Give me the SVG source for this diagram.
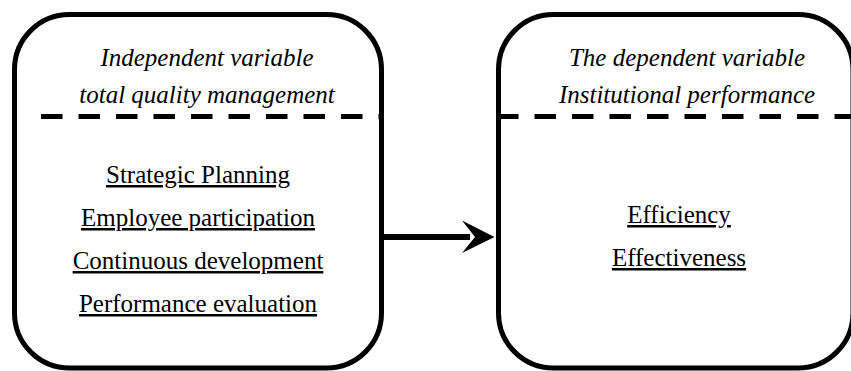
<svg xmlns="http://www.w3.org/2000/svg" width="851" height="371" viewBox="0 0 851 371">
<style>
.box{fill:#fff;stroke:#000;stroke-width:5}
.dash{stroke:#000;stroke-width:5;stroke-dasharray:21.5 16}
.hd{font-style:italic;font-size:25px;fill:#000;text-anchor:middle}
.it{font-size:25px;fill:#000;text-anchor:middle;text-decoration:underline}
</style>
<rect width="851" height="371" fill="#fff"/>
<g id="independent" font-family="Liberation Serif, Times New Roman, DejaVu Serif, serif">
<rect class="box" x="14.5" y="14.5" width="367" height="353.5" rx="55" ry="55"/>
<line class="dash" x1="41" y1="116.5" x2="381" y2="116.5"/>
<text class="hd" x="207" y="66">Independent variable</text>
<text class="hd" x="207" y="103">total quality management</text>
<text class="it" x="198" y="183">Strategic Planning</text>
<text class="it" x="198" y="226">Employee participation</text>
<text class="it" x="198" y="269">Continuous development</text>
<text class="it" x="198" y="312">Performance evaluation</text>
</g>
<g id="dependent" font-family="Liberation Serif, Times New Roman, DejaVu Serif, serif">
<rect class="box" x="498.5" y="14.5" width="354.5" height="353.5" rx="55" ry="55"/>
<line class="dash" x1="497" y1="116.5" x2="851" y2="116.5"/>
<text class="hd" x="687" y="66">The dependent variable</text>
<text class="hd" x="687" y="103">Institutional performance</text>
<text class="it" x="679" y="223">Efficiency</text>
<text class="it" x="679" y="266">Effectiveness</text>
</g>
<g id="connectors">
<line x1="381" y1="237" x2="470" y2="237" stroke="#000" stroke-width="6"/>
<polygon points="494.5,237 462,220.5 475,237 462,253" fill="#000"/>
</g>
</svg>
